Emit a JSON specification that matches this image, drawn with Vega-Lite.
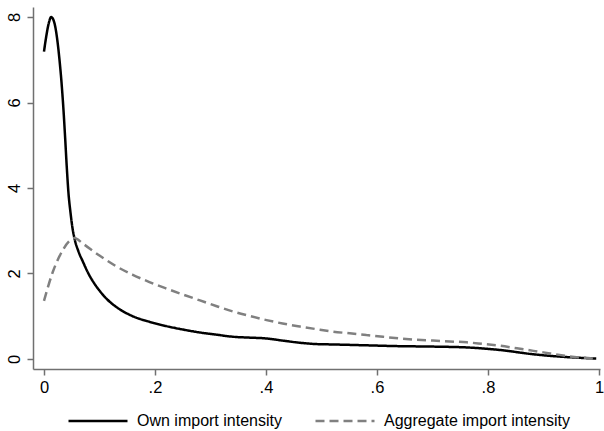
{
  "$schema": "https://vega.github.io/schema/vega-lite/v6.json",
  "width": 567,
  "height": 362,
  "autosize": {"type": "none"},
  "padding": {"left": 33, "top": 7, "right": 4, "bottom": 62},
  "background": "white",
  "config": {
    "view": {"stroke": null},
    "font": "Liberation Sans",
    "axis": {
      "grid": false,
      "domainColor": "#707070",
      "domainWidth": 1.5,
      "tickColor": "#707070",
      "tickWidth": 1.5,
      "tickSize": 6,
      "labelColor": "black",
      "labelFont": "Liberation Sans",
      "labelFontSize": 16.5,
      "title": null
    }
  },
  "data": {
    "values": [
      {"series": "Own import intensity", "x": 0, "y": 7.19},
      {"series": "Own import intensity", "x": 0.004, "y": 7.54},
      {"series": "Own import intensity", "x": 0.0085, "y": 7.85},
      {"series": "Own import intensity", "x": 0.013, "y": 8.0},
      {"series": "Own import intensity", "x": 0.019, "y": 7.85},
      {"series": "Own import intensity", "x": 0.024, "y": 7.46},
      {"series": "Own import intensity", "x": 0.028, "y": 6.99},
      {"series": "Own import intensity", "x": 0.032, "y": 6.4},
      {"series": "Own import intensity", "x": 0.035, "y": 5.85},
      {"series": "Own import intensity", "x": 0.038, "y": 5.2},
      {"series": "Own import intensity", "x": 0.041, "y": 4.5},
      {"series": "Own import intensity", "x": 0.044, "y": 3.9},
      {"series": "Own import intensity", "x": 0.048, "y": 3.4},
      {"series": "Own import intensity", "x": 0.0515, "y": 3.05},
      {"series": "Own import intensity", "x": 0.0553, "y": 2.8},
      {"series": "Own import intensity", "x": 0.062, "y": 2.52},
      {"series": "Own import intensity", "x": 0.07, "y": 2.28},
      {"series": "Own import intensity", "x": 0.08, "y": 2.0},
      {"series": "Own import intensity", "x": 0.09, "y": 1.78},
      {"series": "Own import intensity", "x": 0.1, "y": 1.6},
      {"series": "Own import intensity", "x": 0.115, "y": 1.38},
      {"series": "Own import intensity", "x": 0.13, "y": 1.22},
      {"series": "Own import intensity", "x": 0.16, "y": 1.0},
      {"series": "Own import intensity", "x": 0.19, "y": 0.87},
      {"series": "Own import intensity", "x": 0.22, "y": 0.77},
      {"series": "Own import intensity", "x": 0.25, "y": 0.69},
      {"series": "Own import intensity", "x": 0.281, "y": 0.62},
      {"series": "Own import intensity", "x": 0.31, "y": 0.57},
      {"series": "Own import intensity", "x": 0.341, "y": 0.52},
      {"series": "Own import intensity", "x": 0.37, "y": 0.5},
      {"series": "Own import intensity", "x": 0.401, "y": 0.48},
      {"series": "Own import intensity", "x": 0.43, "y": 0.43},
      {"series": "Own import intensity", "x": 0.461, "y": 0.38},
      {"series": "Own import intensity", "x": 0.49, "y": 0.35},
      {"series": "Own import intensity", "x": 0.521, "y": 0.34},
      {"series": "Own import intensity", "x": 0.581, "y": 0.32},
      {"series": "Own import intensity", "x": 0.641, "y": 0.3},
      {"series": "Own import intensity", "x": 0.701, "y": 0.29},
      {"series": "Own import intensity", "x": 0.762, "y": 0.27},
      {"series": "Own import intensity", "x": 0.822, "y": 0.21},
      {"series": "Own import intensity", "x": 0.882, "y": 0.11},
      {"series": "Own import intensity", "x": 0.942, "y": 0.045},
      {"series": "Own import intensity", "x": 0.995, "y": 0.01},
      {"series": "Aggregate import intensity", "x": 0, "y": 1.36},
      {"series": "Aggregate import intensity", "x": 0.016, "y": 2.04},
      {"series": "Aggregate import intensity", "x": 0.034, "y": 2.55},
      {"series": "Aggregate import intensity", "x": 0.045, "y": 2.75},
      {"series": "Aggregate import intensity", "x": 0.055, "y": 2.83},
      {"series": "Aggregate import intensity", "x": 0.07, "y": 2.7},
      {"series": "Aggregate import intensity", "x": 0.1, "y": 2.42},
      {"series": "Aggregate import intensity", "x": 0.13, "y": 2.17},
      {"series": "Aggregate import intensity", "x": 0.16, "y": 1.97},
      {"series": "Aggregate import intensity", "x": 0.19, "y": 1.8},
      {"series": "Aggregate import intensity", "x": 0.22, "y": 1.65},
      {"series": "Aggregate import intensity", "x": 0.25, "y": 1.51},
      {"series": "Aggregate import intensity", "x": 0.281, "y": 1.37},
      {"series": "Aggregate import intensity", "x": 0.31, "y": 1.24},
      {"series": "Aggregate import intensity", "x": 0.341, "y": 1.11},
      {"series": "Aggregate import intensity", "x": 0.37, "y": 1.01},
      {"series": "Aggregate import intensity", "x": 0.401, "y": 0.91},
      {"series": "Aggregate import intensity", "x": 0.43, "y": 0.83},
      {"series": "Aggregate import intensity", "x": 0.461, "y": 0.76},
      {"series": "Aggregate import intensity", "x": 0.49, "y": 0.7},
      {"series": "Aggregate import intensity", "x": 0.521, "y": 0.64},
      {"series": "Aggregate import intensity", "x": 0.551, "y": 0.6},
      {"series": "Aggregate import intensity", "x": 0.581, "y": 0.56},
      {"series": "Aggregate import intensity", "x": 0.611, "y": 0.52},
      {"series": "Aggregate import intensity", "x": 0.641, "y": 0.48},
      {"series": "Aggregate import intensity", "x": 0.671, "y": 0.45},
      {"series": "Aggregate import intensity", "x": 0.701, "y": 0.43},
      {"series": "Aggregate import intensity", "x": 0.731, "y": 0.41},
      {"series": "Aggregate import intensity", "x": 0.762, "y": 0.39},
      {"series": "Aggregate import intensity", "x": 0.792, "y": 0.35},
      {"series": "Aggregate import intensity", "x": 0.822, "y": 0.31},
      {"series": "Aggregate import intensity", "x": 0.852, "y": 0.25},
      {"series": "Aggregate import intensity", "x": 0.882, "y": 0.19},
      {"series": "Aggregate import intensity", "x": 0.912, "y": 0.13},
      {"series": "Aggregate import intensity", "x": 0.942, "y": 0.07},
      {"series": "Aggregate import intensity", "x": 0.97, "y": 0.03},
      {"series": "Aggregate import intensity", "x": 0.995, "y": 0.005}
    ]
  },
  "mark": {"type": "line", "strokeWidth": 2.5, "interpolate": "monotone"},
  "encoding": {
    "x": {
      "field": "x",
      "type": "quantitative",
      "scale": {"domain": [-0.0198, 1.0018], "nice": false, "zero": false},
      "axis": {
        "values": [0, 0.2, 0.4, 0.6, 0.8, 1],
        "labelExpr": "datum.value == 0 ? '0' : datum.value == 1 ? '1' : replace(format(datum.value, '.1f'), '0.', '.')",
        "labelPadding": 4,
        "labelFlush": false
      }
    },
    "y": {
      "field": "y",
      "type": "quantitative",
      "scale": {"domain": [-0.234, 8.234], "nice": false, "zero": false},
      "axis": {
        "values": [0, 2, 4, 6, 8],
        "labelAngle": -90,
        "labelAlign": "center",
        "labelBaseline": "alphabetic",
        "labelPadding": 7.5,
        "labelFlush": false
      }
    },
    "color": {
      "field": "series",
      "type": "nominal",
      "scale": {"domain": ["Own import intensity", "Aggregate import intensity"], "range": ["black", "#808080"]},
      "legend": {
        "title": null,
        "orient": "none",
        "direction": "horizontal",
        "legendX": 34,
        "legendY": 383,
        "padding": 0,
        "symbolType": "stroke",
        "symbolSize": 3481,
        "symbolStrokeWidth": 2.5,
        "labelFont": "Liberation Sans",
        "labelFontSize": 16,
        "labelColor": "black",
        "labelOffset": 8,
        "columnPadding": 28,
        "labelLimit": 400
      }
    },
    "strokeDash": {
      "field": "series",
      "type": "nominal",
      "scale": {"domain": ["Own import intensity", "Aggregate import intensity"], "range": [[1, 0], [9, 5]]},
      "legend": {
        "title": null,
        "orient": "none",
        "direction": "horizontal",
        "legendX": 34,
        "legendY": 383,
        "padding": 0,
        "symbolType": "stroke",
        "symbolSize": 3481,
        "symbolStrokeWidth": 2.5,
        "labelFont": "Liberation Sans",
        "labelFontSize": 16,
        "labelColor": "black",
        "labelOffset": 8,
        "columnPadding": 28,
        "labelLimit": 400
      }
    }
  }
}
